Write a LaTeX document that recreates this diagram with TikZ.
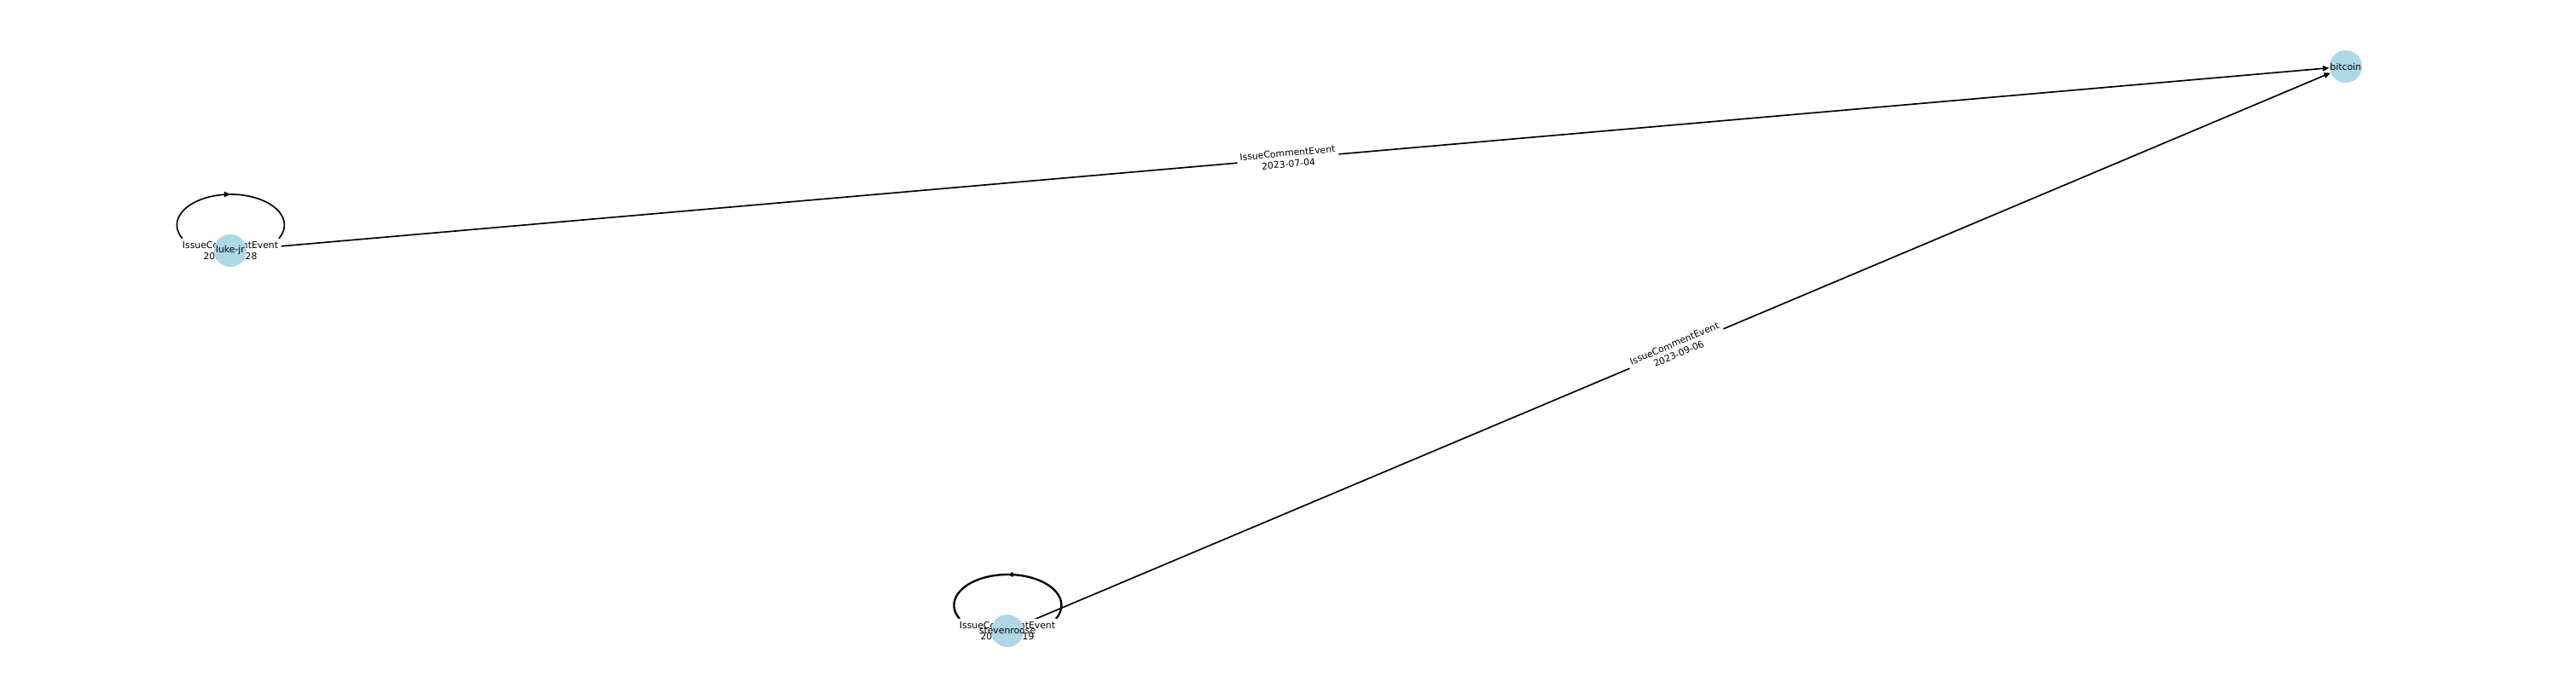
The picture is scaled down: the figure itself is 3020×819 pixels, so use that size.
\documentclass[tikz,border=0pt]{standalone}
\usepackage{fontspec}
\setmainfont{DejaVu Sans}
\usepackage{tikz}
\usetikzlibrary{arrows.meta,decorations.markings}
\pgfdeclarelayer{edgelayer}
\pgfdeclarelayer{labellayer}
\pgfsetlayers{edgelayer,labellayer,main}
\definecolor{lightblue}{RGB}{173,216,230}
\tikzset{font=\fontsize{7.8}{9.4}\selectfont}
\tikzstyle{user}=[circle,fill=lightblue,inner sep=0pt,minimum size=27.4pt]
\tikzstyle{evlabel}=[fill=white,rounded corners=2pt,inner sep=2.5pt,align=center]
\tikzstyle{selfloop}=[line width=1.2pt,postaction={decorate}]
\tikzset{tipfwd/.style={decoration={markings,mark=at position 0.5 with {\arrow{Triangle[length=5.5pt,width=4.5pt]}}}},
  tipback/.style={decoration={markings,mark=at position 0.5 with {\arrowreversed{Triangle[length=4.5pt,width=4pt]}}}}}

\begin{document}
\begin{tikzpicture}[x=0.72pt,y=-0.72pt]
\useasboundingbox (0,0) rectangle (3020,819);
\node[user,label=center:luke-jr] (L) at (270,294) {};
\node[user,label=center:bitcoin] (B) at (2750,78) {};
\node[user,label=center:stevenroose] (S) at (1181,740) {};
\begin{pgfonlayer}{edgelayer}
\path[-{Triangle[length=5.5pt,width=4.5pt]},line width=1.2pt]
(L) edge (B)
(S) edge (B);
\draw[selfloop,tipfwd] (L.center) ++(-56,-14) arc[start angle=153.6,end angle=386.4,x radius=63,y radius=36];
\draw[selfloop,tipback,line width=1.7pt] (S.center) ++(-56,-14) arc[start angle=153.6,end angle=386.4,x radius=63,y radius=36];
\end{pgfonlayer}
\begin{pgfonlayer}{labellayer}
\path (L) -- node[evlabel,sloped]{IssueCommentEvent\\2023-07-04} (B);
\path (S) -- node[evlabel,sloped]{IssueCommentEvent\\2023-09-06} (B);
\node[evlabel] at (L) {IssueCommentEvent\\2023-06-28};
\node[evlabel] at (S) {IssueCommentEvent\\2023-08-19};
\end{pgfonlayer}
\end{tikzpicture}
\end{document}
